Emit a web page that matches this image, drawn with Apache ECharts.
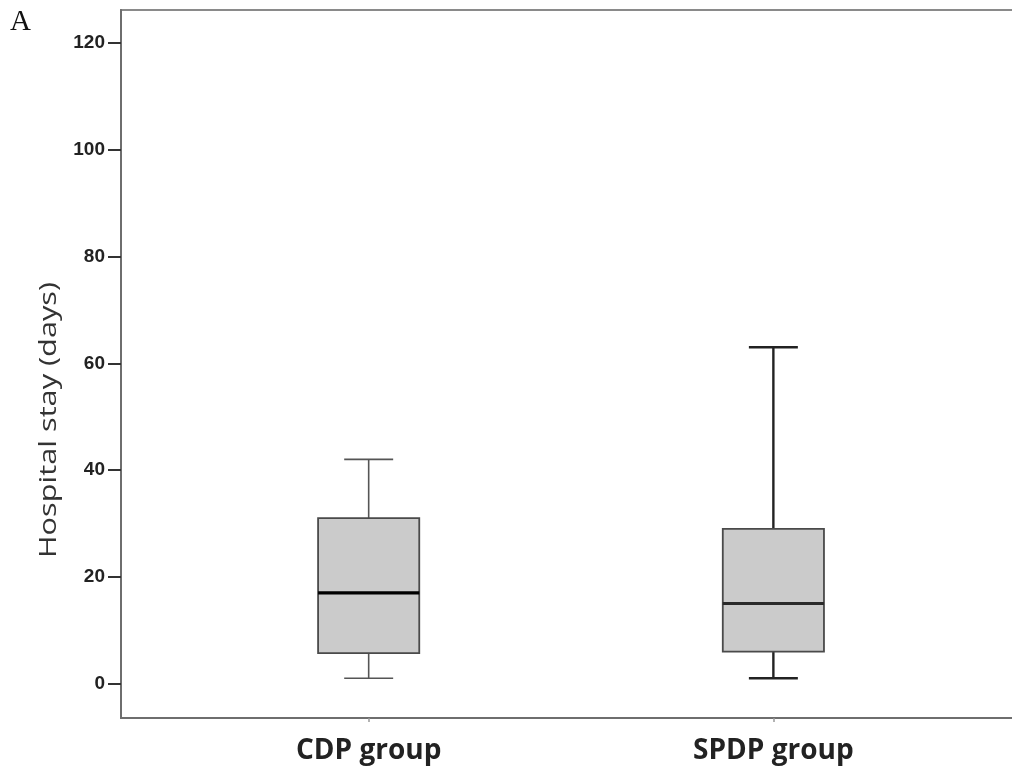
<!DOCTYPE html>
<html>
<head>
<meta charset="utf-8">
<script src="https://cdn.jsdelivr.net/npm/echarts@6/dist/echarts.min.js"></script>
<style>
  html, body { margin: 0; padding: 0; background: #ffffff; }
  #chart { width: 1012px; height: 774px; }
</style>
</head>
<body>
<div id="chart"></div>
<script>
// ---- data ----
const categories = ['CDP group', 'SPDP group'];
const whiskerLow  = [1, 1];
const q1          = [5.7, 6];
const median      = [17, 15];
const q3          = [31, 29];
const whiskerHigh = [42, 63];
const yTickValues = [0, 20, 40, 60, 80, 100, 120];
const yAxisTitle = 'Hospital stay (days)';
const panelLetter = 'A';

// build rows for the custom series: [xIndex, low, q1, median, q3, high]
const rows = categories.map((c, i) => [i, whiskerLow[i], q1[i], median[i], q3[i], whiskerHigh[i]]);

const BOX_W = 0.25;   // in x-axis units
const CAP_W = 0.121;
const whiskerStyle = [{ stroke: '#555', lineWidth: 1.6 }, { stroke: '#222', lineWidth: 2.4 }];
const medianStyle  = [{ stroke: '#000', lineWidth: 3.4 }, { stroke: '#2a2a2a', lineWidth: 3 }];

function renderItem(params, api) {
  const x = api.value(0);
  const pLow = api.coord([x, api.value(1)]);
  const pQ1 = api.coord([x, api.value(2)]);
  const pMed = api.coord([x, api.value(3)]);
  const pQ3 = api.coord([x, api.value(4)]);
  const pHigh = api.coord([x, api.value(5)]);
  const bw = api.size([BOX_W, 0])[0];
  const cw = api.size([CAP_W, 0])[0];
  const cx = pMed[0];
  const ws = whiskerStyle[params.dataIndex];
  const ms = medianStyle[params.dataIndex];
  return {
    type: 'group',
    children: [
      { type: 'line', shape: { x1: cx, y1: pQ3[1], x2: cx, y2: pHigh[1] }, style: ws },
      { type: 'line', shape: { x1: cx - cw / 2, y1: pHigh[1], x2: cx + cw / 2, y2: pHigh[1] }, style: ws },
      { type: 'line', shape: { x1: cx, y1: pQ1[1], x2: cx, y2: pLow[1] }, style: ws },
      { type: 'line', shape: { x1: cx - cw / 2, y1: pLow[1], x2: cx + cw / 2, y2: pLow[1] }, style: ws },
      { type: 'rect', shape: { x: cx - bw / 2, y: pQ3[1], width: bw, height: pQ1[1] - pQ3[1] },
        style: { fill: '#cbcbcb', stroke: '#4a4a4a', lineWidth: 1.8 } },
      { type: 'line', shape: { x1: cx - bw / 2, y1: pMed[1], x2: cx + bw / 2, y2: pMed[1] }, style: ms }
    ]
  };
}

const chart = echarts.init(document.getElementById('chart'), null, { renderer: 'canvas' });
chart.setOption({
  animation: false,
  backgroundColor: '#ffffff',
  grid: {
    left: 121, top: 10, width: 896, bottom: 56,
    outerBoundsMode: 'none',
    containLabel: false,
    show: true, borderColor: '#8a8a8a', borderWidth: 2, backgroundColor: 'transparent'
  },
  xAxis: {
    type: 'value',
    min: -0.612,
    max: 1.602,
    splitLine: { show: false },
    axisLine: { show: true, onZero: false, lineStyle: { color: '#6e6e6e', width: 2 } },
    axisTick: { show: true, customValues: [0, 1], length: 4, inside: false, lineStyle: { color: '#9a9a9a', width: 1.5 } },
    axisLabel: {
      customValues: [0, 1],
      formatter: v => categories[Math.round(v)] || '',
      margin: 19,
      color: '#222',
      fontFamily: 'Open Sans',
      fontWeight: 'bold',
      fontSize: 28
    }
  },
  yAxis: {
    type: 'value',
    min: -6.45,
    max: 126.2,
    splitLine: { show: false },
    axisLine: { show: true, onZero: false, lineStyle: { color: '#6e6e6e', width: 2 } },
    axisTick: { show: true, customValues: yTickValues, length: 13, lineStyle: { color: '#333', width: 2 } },
    axisLabel: {
      customValues: yTickValues,
      margin: 16,
      color: '#222',
      fontFamily: 'Liberation Sans, Arial',
      fontWeight: 'bold',
      fontSize: 19
    }
  },
  graphic: [
    {
      type: 'text', left: 10, top: 8, silent: true,
      style: { text: panelLetter, font: '29px "Liberation Serif", serif', fill: '#111' }
    },
    {
      type: 'text', x: 49, y: 420, rotation: Math.PI / 2, scaleX: 1.28, silent: true,
      style: { text: yAxisTitle, font: '24px "Open Sans", sans-serif', fill: '#333', align: 'center', verticalAlign: 'middle' }
    }
  ],
  series: [{
    type: 'custom',
    renderItem: renderItem,
    data: rows,
    encode: { x: 0, y: [1, 2, 3, 4, 5] },
    clip: false
  }]
});
</script>
</body>
</html>
